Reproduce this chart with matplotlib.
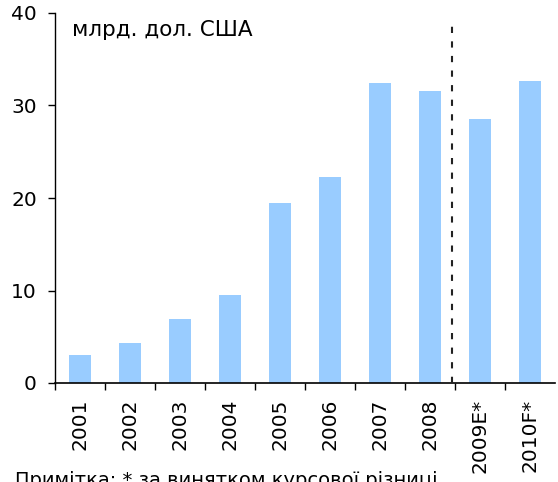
import matplotlib
matplotlib.use("Agg")
import matplotlib.pyplot as plt
import numpy as np

categories = ["2001", "2002", "2003", "2004", "2005", "2006", "2007", "2008", "2009E*", "2010F*"]
values = [3.0, 4.3, 6.9, 9.5, 19.5, 22.3, 32.4, 31.6, 28.5, 32.6]
y_ticks = [0, 10, 20, 30, 40]
unit_label = "млрд. дол. США"
footnote = "Примітка: * за винятком курсової різниці"

plt.rcParams['font.family'] = ['DejaVu Sans']

fig = plt.figure(figsize=(5.58, 4.82), dpi=100)
ax = fig.add_axes([55/558, 99/482, 500/558, 370/482])

x = np.arange(len(categories))
ax.bar(x, values, width=0.45, color="#99CCFF", zorder=2)

ax.set_xlim(-0.5, len(categories) - 0.5)
ax.set_ylim(0, 40)
ax.set_yticks(y_ticks)
ax.set_yticklabels([str(t) for t in y_ticks], fontsize=14.5)

ax.set_xticks(x)
ax.set_xticklabels(categories, rotation=90, fontsize=14.5)
ax.tick_params(axis='x', which='major', length=0, pad=11.5)
ax.set_xticks(np.arange(-0.5, len(categories) - 0.5, 1.0), minor=True)
ax.tick_params(axis='x', which='minor', length=5, width=1, direction='out')
ax.tick_params(axis='y', length=5, width=1, direction='out', pad=8)

for s in ["top", "right"]:
    ax.spines[s].set_visible(False)
ax.spines["left"].set_linewidth(1)
ax.spines["bottom"].set_linewidth(1.2)

ax.axvline(7.44, ymin=0, ymax=0.973, color="#222222", linestyle=(0, (3, 4)), linewidth=1.5, zorder=3)

ax.text(0.034, 0.955, unit_label, transform=ax.transAxes, fontsize=15.5, va="center", ha="left")

fig.text(15/558, 1 - 486/482, footnote, fontsize=14, ha="left", va="baseline")

fig.savefig("out.png", dpi=100)
